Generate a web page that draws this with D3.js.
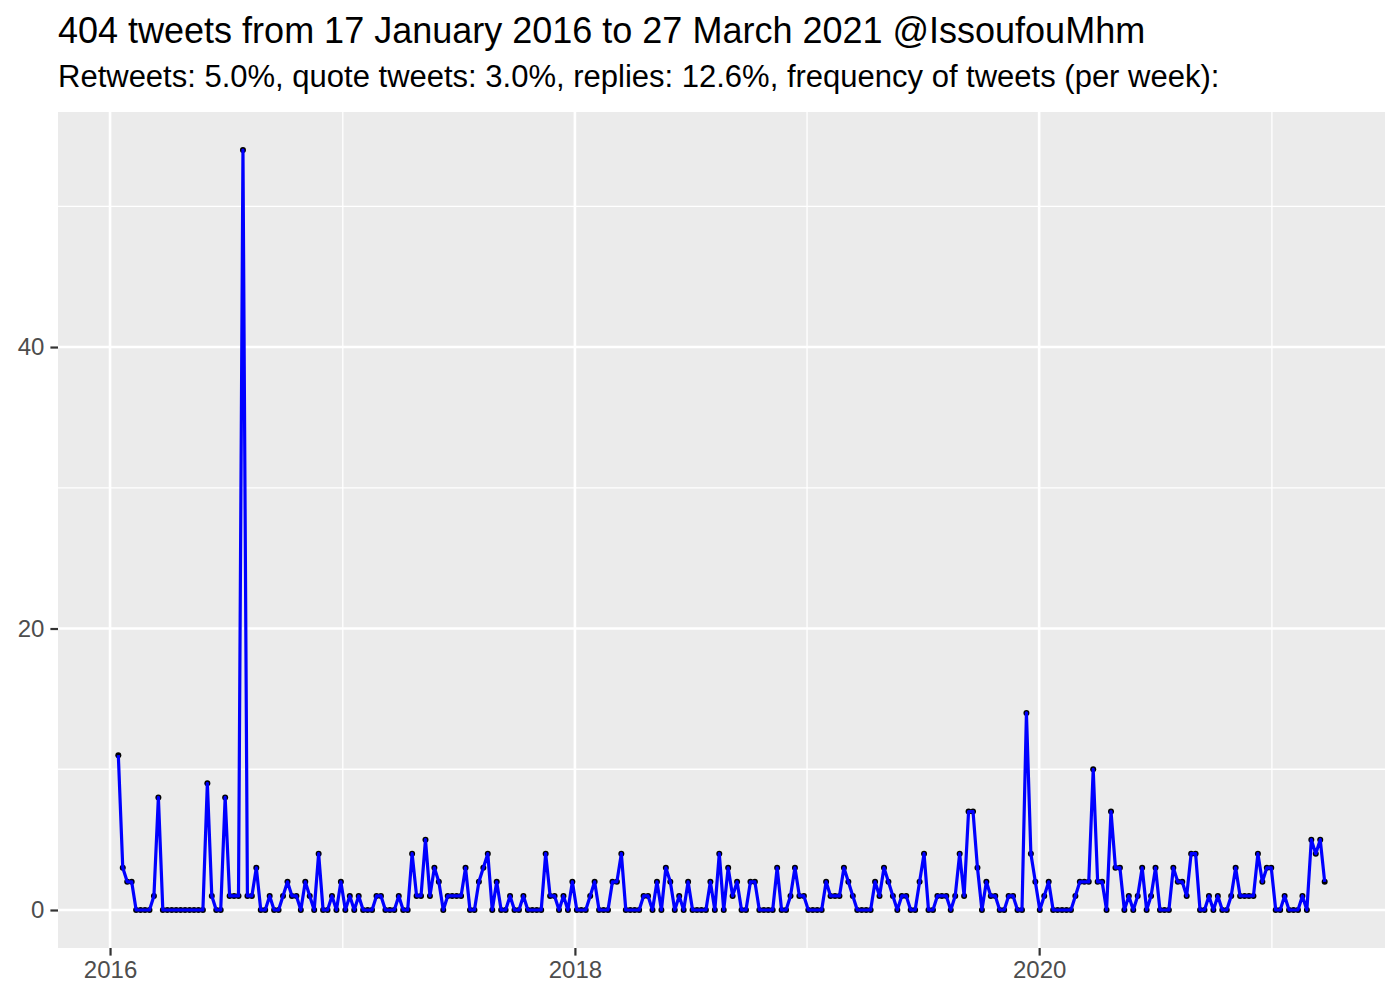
<!DOCTYPE html>
<html>
<head>
<meta charset="utf-8">
<script src="https://cdn.jsdelivr.net/npm/d3@7"></script>
<style>
  body { margin: 0; background: #ffffff; }
  text { font-family: "Liberation Sans", Arial, Helvetica, sans-serif; }
</style>
</head>
<body>
<div id="chart"></div>
<script>
// weekly tweet counts, one value per week
var firstWeek = "2016-01-14"
var counts = [
  11,3,2,2,0,0,0,0,1,8,
  0,0,0,0,0,0,0,0,0,0,
  9,1,0,0,8,1,1,1,54,1,
  1,3,0,0,1,0,0,1,2,1,
  1,0,2,1,0,4,0,0,1,0,
  2,0,1,0,1,0,0,0,1,1,
  0,0,0,1,0,0,4,1,1,5,
  1,3,2,0,1,1,1,1,3,0,
  0,2,3,4,0,2,0,0,1,0,
  0,1,0,0,0,0,4,1,1,0,
  1,0,2,0,0,0,1,2,0,0,
  0,2,2,4,0,0,0,0,1,1,
  0,2,0,3,2,0,1,0,2,0,
  0,0,0,2,0,4,0,3,1,2,
  0,0,2,2,0,0,0,0,3,0,
  0,1,3,1,1,0,0,0,0,2,
  1,1,1,3,2,1,0,0,0,0,
  2,1,3,2,1,0,1,1,0,0,
  2,4,0,0,1,1,1,0,1,4,
  1,7,7,3,0,2,1,1,0,0,
  1,1,0,0,14,4,2,0,1,2,
  0,0,0,0,0,1,2,2,2,10,
  2,2,0,7,3,3,0,1,0,1,
  3,0,1,3,0,0,0,3,2,2,
  1,4,4,0,0,1,0,1,0,0,
  1,3,1,1,1,1,4,2,3,3,
  0,0,1,0,0,0,1,0,5,4,
  5,2
]
var yMajor = [0, 20, 40]
var yMinor = [10, 30, 50]
var xMajor = ["2016", "2018", "2020"]
var xMinor = ["2017", "2019", "2021"]

var titleText = "404 tweets from 17 January 2016 to 27 March 2021 @IssoufouMhm"
var subtitleText = "Retweets: 5.0%, quote tweets: 3.0%, replies: 12.6%, frequency of tweets (per week):"

width = 1400
height = 1000
var margin = {top: 112, right: 15, bottom: 52, left: 58}

var parse = d3.timeParse("%Y-%m-%d")
var start = parse(firstWeek)
var data = counts.map(function(c, i) {
  return {date: d3.timeDay.offset(start, i * 7), n: c}
})

var svg = d3.select("#chart").append("svg")
  .attr("width", width)
  .attr("height", height)
  .style("display", "block")

// ggplot style 5% expansion on both axes
var t0 = data[0].date, t1 = data[data.length - 1].date
var span = t1 - t0
var x = d3.scaleTime()
  .domain([new Date(+t0 - span * 0.05), new Date(+t1 + span * 0.05)])
  .range([margin.left, width - margin.right])

var yMax = d3.max(counts)
var y = d3.scaleLinear()
  .domain([-yMax * 0.05, yMax * 1.05])
  .range([height - margin.bottom, margin.top])

svg.append("rect")
  .attr("x", margin.left)
  .attr("y", margin.top)
  .attr("width", width - margin.left - margin.right)
  .attr("height", height - margin.top - margin.bottom)
  .attr("fill", "#EBEBEB")

var grid = svg.append("g")

grid.selectAll(".yminor").data(yMinor).enter().append("line")
  .attr("x1", margin.left).attr("x2", width - margin.right)
  .attr("y1", function(d) { return y(d) }).attr("y2", function(d) { return y(d) })
  .attr("stroke", "#ffffff").attr("stroke-width", 1.3)

grid.selectAll(".xminor").data(xMinor).enter().append("line")
  .attr("y1", margin.top).attr("y2", height - margin.bottom)
  .attr("x1", function(d) { return x(parse(d + "-01-01")) })
  .attr("x2", function(d) { return x(parse(d + "-01-01")) })
  .attr("stroke", "#ffffff").attr("stroke-width", 1.3)

grid.selectAll(".ymajor").data(yMajor).enter().append("line")
  .attr("x1", margin.left).attr("x2", width - margin.right)
  .attr("y1", function(d) { return y(d) }).attr("y2", function(d) { return y(d) })
  .attr("stroke", "#ffffff").attr("stroke-width", 2.6)

grid.selectAll(".xmajor").data(xMajor).enter().append("line")
  .attr("y1", margin.top).attr("y2", height - margin.bottom)
  .attr("x1", function(d) { return x(parse(d + "-01-01")) })
  .attr("x2", function(d) { return x(parse(d + "-01-01")) })
  .attr("stroke", "#ffffff").attr("stroke-width", 2.6)

// axes
var yAxis = d3.axisLeft(y).tickValues(yMajor).tickSize(7.6).tickPadding(6)
var xAxis = d3.axisBottom(x)
  .tickValues(xMajor.map(function(d) { return parse(d + "-01-01") }))
  .tickFormat(d3.timeFormat("%Y"))
  .tickSize(7.6).tickPadding(5)

var gy = svg.append("g")
  .attr("transform", "translate(" + margin.left + ",0)")
  .call(yAxis)
var gx = svg.append("g")
  .attr("transform", "translate(0," + (height - margin.bottom) + ")")
  .call(xAxis)

svg.selectAll(".domain").remove()
svg.selectAll(".tick line").attr("stroke", "#333333").attr("stroke-width", 2.2)
svg.selectAll(".tick text")
  .attr("fill", "#4D4D4D")
  .style("font-size", "24px")
  .style("font-family", "'Liberation Sans', Arial, sans-serif")

// points under the line
svg.append("g").selectAll("circle")
  .data(data).enter().append("circle")
  .attr("cx", function(d) { return x(d.date) })
  .attr("cy", function(d) { return y(d.n) })
  .attr("r", 3)
  .attr("fill", "#000000")

var line = d3.line()
  .x(function(d) { return x(d.date) })
  .y(function(d) { return y(d.n) })

svg.append("path")
  .datum(data)
  .attr("d", line)
  .attr("fill", "none")
  .attr("stroke", "#0000FF")
  .attr("stroke-width", 3.2)
  .attr("stroke-linejoin", "round")

svg.append("text")
  .attr("x", margin.left)
  .attr("y", 43)
  .style("font-size", "36px")
  .attr("fill", "#000000")
  .text(titleText)

svg.append("text")
  .attr("x", margin.left)
  .attr("y", 87)
  .style("font-size", "31px")
  .attr("fill", "#000000")
  .text(subtitleText)
</script>
</body>
</html>
